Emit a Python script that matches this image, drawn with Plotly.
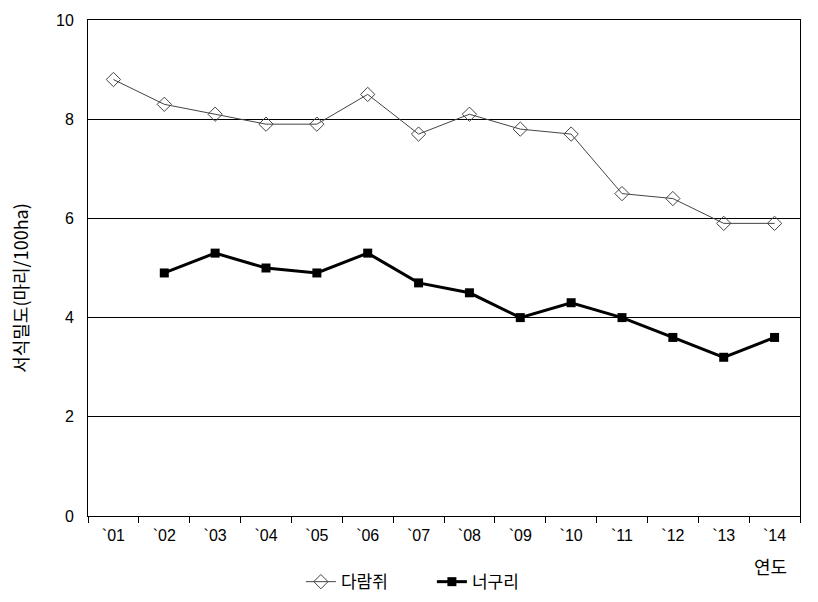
import plotly.graph_objects as go

years = ["`01", "`02", "`03", "`04", "`05", "`06", "`07", "`08", "`09", "`10", "`11", "`12", "`13", "`14"]
squirrel = [8.8, 8.3, 8.1, 7.9, 7.9, 8.5, 7.7, 8.1, 7.8, 7.7, 6.5, 6.4, 5.9, 5.9]
raccoon = [None, 4.9, 5.3, 5.0, 4.9, 5.3, 4.7, 4.5, 4.0, 4.3, 4.0, 3.6, 3.2, 3.6]
y_ticks = [0, 2, 4, 6, 8, 10]

FONT = "Liberation Sans, Arial, Noto Sans CJK KR, sans-serif"
KFONT = "Noto Sans CJK KR, sans-serif"

fig = go.Figure()
fig.add_trace(go.Scatter(
    x=years, y=squirrel, name="다람쥐", mode="lines+markers",
    line=dict(color="#444444", width=1),
    marker=dict(symbol="diamond-open", size=11, color="#444444", line=dict(width=1)),
))
fig.add_trace(go.Scatter(
    x=years, y=raccoon, name="너구리", mode="lines+markers",
    line=dict(color="#000000", width=3),
    marker=dict(symbol="square", size=9, color="#000000"),
))

fig.update_layout(
    width=810, height=594,
    margin=dict(l=80, r=18, t=12, b=86, autoexpand=False),
    paper_bgcolor="white", plot_bgcolor="white",
    font=dict(family=FONT, size=16, color="black"),
    showlegend=True,
    legend=dict(orientation="h", x=0.483, xanchor="center", y=-0.097, yanchor="top",
                font=dict(size=17, family=KFONT),
                entrywidth=86, itemwidth=30),
    xaxis=dict(
        type="category", tickson="boundaries", ticks="outside", ticklen=6,
        tickcolor="black", showline=True, linecolor="black", linewidth=1, mirror=True,
        showgrid=False, tickfont=dict(size=16), range=[-0.5, 13.5],
        ticklabelstandoff=5, automargin=False,
    ),
    yaxis=dict(
        range=[0, 10], tickvals=y_ticks, ticks="", showline=True, linecolor="black",
        linewidth=1, mirror=True, showgrid=True, gridcolor="black", gridwidth=1,
        tickfont=dict(size=16), ticklabelstandoff=10, zeroline=False, automargin=False,
    ),
)
fig.add_annotation(text="서식밀도(마리/100ha)", xref="paper", yref="paper",
                   x=-0.0955, y=0.46, textangle=-90, showarrow=False,
                   xanchor="center", yanchor="middle", borderpad=0,
                   font=dict(size=18, family=KFONT))
fig.add_annotation(text="연도", xref="paper", yref="paper", x=0.958, y=-0.101,
                   showarrow=False, xanchor="center", yanchor="middle",
                   font=dict(size=18, family=KFONT))

fig.write_html("out.html")
